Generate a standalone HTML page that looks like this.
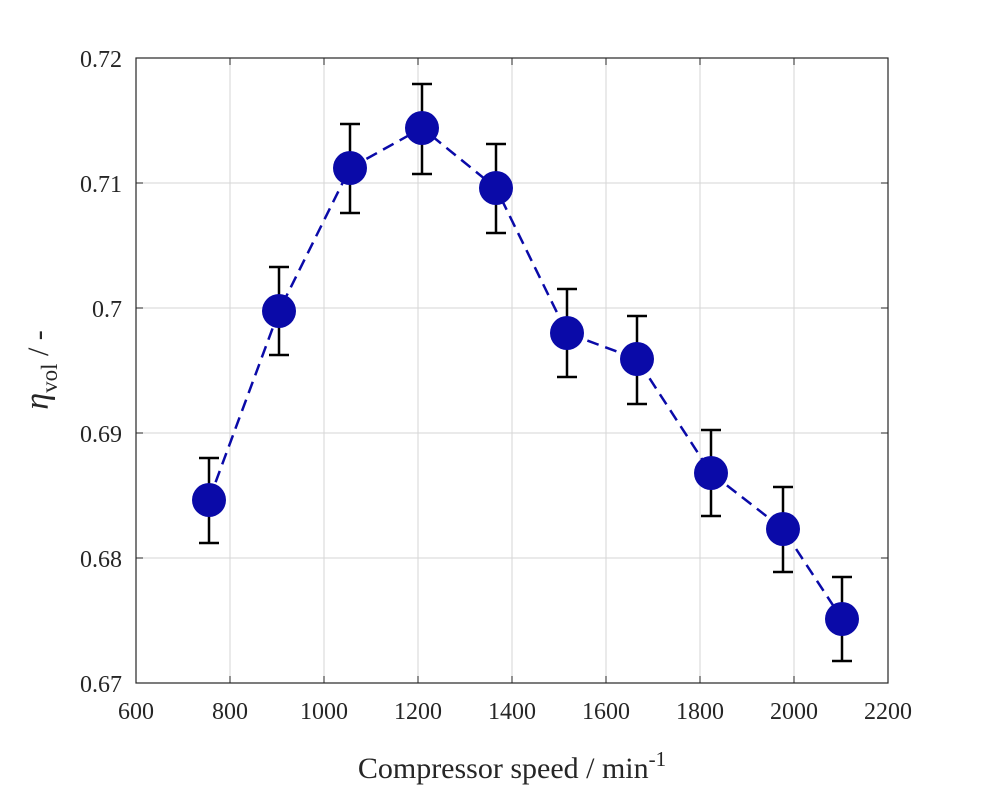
<!DOCTYPE html>
<html><head><meta charset="utf-8"><style>
html,body{margin:0;padding:0;background:#fff;}
svg{display:block;font-family:"Liberation Serif",serif;}
</style></head><body>
<svg width="983" height="785" viewBox="0 0 983 785" xmlns="http://www.w3.org/2000/svg">
<rect width="983" height="785" fill="#fff"/>
<g stroke="#d6d6d6" stroke-width="1">
<line x1="230" y1="58" x2="230" y2="683"/><line x1="324" y1="58" x2="324" y2="683"/>
<line x1="418" y1="58" x2="418" y2="683"/><line x1="512" y1="58" x2="512" y2="683"/>
<line x1="606" y1="58" x2="606" y2="683"/><line x1="700" y1="58" x2="700" y2="683"/>
<line x1="794" y1="58" x2="794" y2="683"/>
<line x1="136" y1="183" x2="888" y2="183"/><line x1="136" y1="308" x2="888" y2="308"/>
<line x1="136" y1="433" x2="888" y2="433"/><line x1="136" y1="558" x2="888" y2="558"/>
</g>
<rect x="136" y="58" width="752" height="625" fill="none" stroke="#262626" stroke-width="1.2"/>
<g stroke="#262626" stroke-width="1">
<path d="M230 683v-7M324 683v-7M418 683v-7M512 683v-7M606 683v-7M700 683v-7M794 683v-7"/>
<path d="M230 58v7M324 58v7M418 58v7M512 58v7M606 58v7M700 58v7M794 58v7"/>
<path d="M136 183h7M136 308h7M136 433h7M136 558h7M888 183h-7M888 308h-7M888 433h-7M888 558h-7"/>
</g>
<g font-size="24" fill="#262626" text-anchor="middle">
<text x="136" y="719">600</text><text x="230" y="719">800</text><text x="324" y="719">1000</text>
<text x="418" y="719">1200</text><text x="512" y="719">1400</text><text x="606" y="719">1600</text>
<text x="700" y="719">1800</text><text x="794" y="719">2000</text><text x="888" y="719">2200</text>
</g>
<g font-size="24" fill="#262626" text-anchor="end">
<text x="122" y="67">0.72</text><text x="122" y="192">0.71</text><text x="122" y="317">0.7</text>
<text x="122" y="442">0.69</text><text x="122" y="567">0.68</text><text x="122" y="692">0.67</text>
</g>
<text x="512" y="778" font-size="30" fill="#262626" text-anchor="middle">Compressor speed / min<tspan dy="-12" font-size="21">-1</tspan></text>
<text transform="translate(48 370) rotate(-90)" font-size="30" fill="#262626" text-anchor="middle"><tspan font-style="italic" font-size="34">η</tspan><tspan dy="9" font-size="23">vol</tspan><tspan dy="-9"> / -</tspan></text>
<polyline fill="none" stroke="#0a0aa8" stroke-width="2.5" stroke-dasharray="12,7"
points="209,500 279,311 350,168 422,128 496,188 567,333 637,359 711,473 783,529 842,619"/>
<g stroke="#000" stroke-width="2.5" fill="none">
<path d="M209 458V543M199 458h20M199 543h20"/>
<path d="M279 267V355M269 267h20M269 355h20"/>
<path d="M350 124V213M340 124h20M340 213h20"/>
<path d="M422 84V174M412 84h20M412 174h20"/>
<path d="M496 144V233M486 144h20M486 233h20"/>
<path d="M567 289V377M557 289h20M557 377h20"/>
<path d="M637 316V404M627 316h20M627 404h20"/>
<path d="M711 430V516M701 430h20M701 516h20"/>
<path d="M783 487V572M773 487h20M773 572h20"/>
<path d="M842 577V661M832 577h20M832 661h20"/>
</g>
<g fill="#0a0aa8">
<circle cx="209" cy="500" r="17"/><circle cx="279" cy="311" r="17"/><circle cx="350" cy="168" r="17"/>
<circle cx="422" cy="128" r="17"/><circle cx="496" cy="188" r="17"/><circle cx="567" cy="333" r="17"/>
<circle cx="637" cy="359" r="17"/><circle cx="711" cy="473" r="17"/><circle cx="783" cy="529" r="17"/>
<circle cx="842" cy="619" r="17"/>
</g>
</svg>
</body></html>
